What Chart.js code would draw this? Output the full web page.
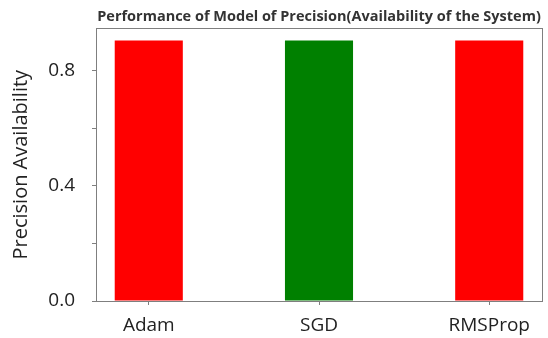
<!DOCTYPE html>
<html>
<head>
<meta charset="utf-8">
<script src="https://cdn.jsdelivr.net/npm/chart.js@4"></script>
<style>
  html, body { margin: 0; padding: 0; background: #fff; }
  #wrap { width: 548px; height: 338px; }
</style>
</head>
<body>
<div id="wrap"><canvas id="grafico" width="548" height="338"></canvas></div>
<script>
// dados do gráfico
const optimizers = ['Adam', 'SGD', 'RMSProp'];
const precisionValues = [0.904, 0.904, 0.904];
const barColors = ['#ff0000', '#008000', '#ff0000'];
const yTickLabels = [0.0, 0.4, 0.8];

// moldura em volta da área do gráfico
const moldura = {
    id: 'moldura',
    afterDraw(chart) {
        const a = chart.chartArea;
        const ctx = chart.ctx;
        ctx.save();
        ctx.strokeStyle = '#7f7f7f';
        ctx.lineWidth = 1;
        ctx.strokeRect(Math.round(a.left) + 0.5, Math.round(a.top) + 0.5,
            Math.round(a.right - a.left), Math.round(a.bottom - a.top));
        ctx.restore();
    }
};

const fonte = "'Open Sans', 'Noto Sans', sans-serif";

new Chart(document.getElementById('grafico').getContext('2d'), {
    type: 'bar',
    data: {
        datasets: [{
            data: optimizers.map((nome, i) => ({ x: i, y: precisionValues[i] })),
            backgroundColor: barColors,
            borderWidth: 0,
            barPercentage: 0.4,
            categoryPercentage: 1
        }]
    },
    options: {
        responsive: false,
        animation: false,
        layout: { padding: { left: 9, right: 6, top: 0, bottom: 0 } },
        plugins: {
            legend: { display: false },
            tooltip: { enabled: false },
            title: {
                display: true,
                fullSize: false,
                text: 'Performance of Model of Precision(Availability of the System)',
                color: '#333',
                font: { family: fonte, size: 14.5, weight: 'bold' },
                padding: { top: 6, bottom: 3 }
            }
        },
        scales: {
            x: {
                type: 'linear',
                offset: false,
                min: -0.31,
                max: 2.31,
                // um tick por otimizador
                afterBuildTicks(scale) {
                    scale.ticks = optimizers.map((nome, i) => ({ value: i }));
                },
                afterFit(scale) { scale.height = 37; },
                ticks: {
                    stepSize: 1,
                    autoSkip: false,
                    maxRotation: 0,
                    color: '#222',
                    padding: 9,
                    font: { family: fonte, size: 19 },
                    callback: v => optimizers[v] ?? ''
                },
                grid: { display: true, offset: false, drawOnChartArea: false, drawTicks: true, tickLength: 4, color: '#7f7f7f' },
                border: { display: false }
            },
            y: {
                min: 0,
                max: 0.946,
                afterBuildTicks(scale) {
                    scale.ticks = scale.ticks.filter(t => t.value < 0.85);
                },
                afterFit(scale) { scale.width = 87; },
                ticks: {
                    stepSize: 0.2,
                    color: '#222',
                    padding: 17,
                    font: { family: fonte, size: 19 },
                    callback: v => {
                        const r = Math.round(v * 10) / 10;
                        return yTickLabels.includes(r) ? r.toFixed(1) : '';
                    }
                },
                title: {
                    display: true,
                    text: 'Precision Availability',
                    color: '#222',
                    font: { family: fonte, size: 20 },
                    padding: { top: 0, bottom: 0 }
                },
                grid: { display: true, drawOnChartArea: false, drawTicks: true, tickLength: 4, color: '#7f7f7f' },
                border: { display: false }
            }
        }
    },
    plugins: [moldura]
});
</script>
</body>
</html>
